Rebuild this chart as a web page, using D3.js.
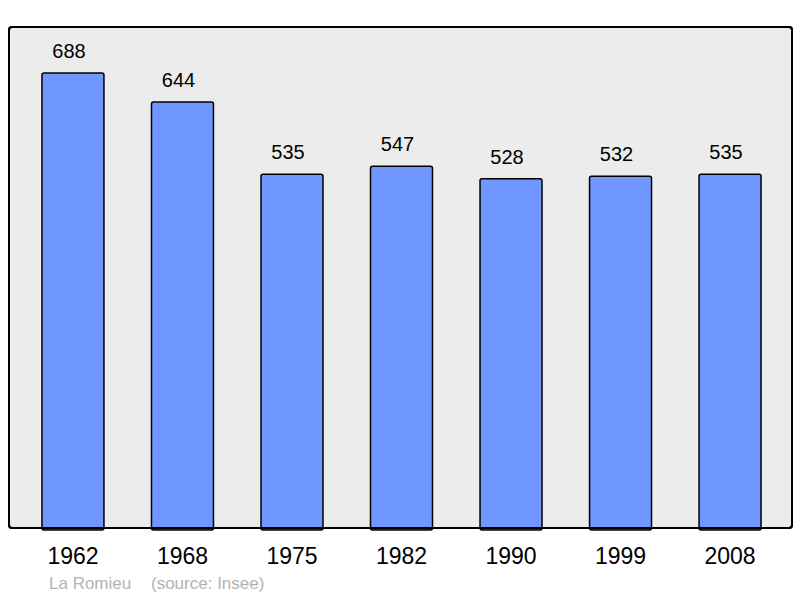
<!DOCTYPE html>
<html>
<head>
<meta charset="utf-8">
<script src="https://cdn.jsdelivr.net/npm/d3@7"></script>
<style>
  body { margin: 0; background: #fff; }
  svg { display: block; font-family: "Liberation Sans", Arial, sans-serif; }
</style>
</head>
<body>
<div id="chart"></div>
<script>
// population by census year
const years = ['1962', '1968', '1975', '1982', '1990', '1999', '2008'];
const population = [688, 644, 535, 547, 528, 532, 535];
const commune = 'La Romieu';
const source = '(source: Insee)';

const width = 800, height = 598;

const svg = d3.select('#chart').append('svg')
    .attr('width', width)
    .attr('height', height);

// frame
svg.append('rect')
    .attr('x', 9).attr('y', 27)
    .attr('width', 783).attr('height', 501)
    .attr('rx', 3)
    .attr('fill', '#ececec')
    .attr('stroke', '#000')
    .attr('stroke-width', 2);

const x = d3.scaleBand()
    .domain(years)
    .range([18.2, 784.8])
    .paddingInner(0.434)
    .paddingOuter(0.217);

const y = d3.scaleLinear()
    .domain([0, 688])
    .range([528, 73]);

const bars = svg.selectAll('.bar')
    .data(years.map((yr, i) => ({ year: yr, value: population[i] })))
  .enter().append('g')
    .attr('class', 'bar');

bars.append('rect')
    .attr('x', d => x(d.year))
    .attr('y', d => y(d.value))
    .attr('width', x.bandwidth())
    .attr('height', d => y(0) - y(d.value) + 2)
    .attr('rx', 2)
    .attr('fill', '#7096ff')
    .attr('stroke', '#000')
    .attr('stroke-width', 1.5);

bars.append('text')
    .attr('x', d => x(d.year) + x.bandwidth() / 2 - 4)
    .attr('y', d => y(d.value) - 15)
    .attr('text-anchor', 'middle')
    .attr('font-size', 20)
    .text(d => d.value);

// redraw frame border on top so bars sit inside it
svg.append('rect')
    .attr('x', 9).attr('y', 27)
    .attr('width', 783).attr('height', 501)
    .attr('rx', 3)
    .attr('fill', 'none')
    .attr('stroke', '#000')
    .attr('stroke-width', 2);

// year labels
const xAxis = d3.axisBottom(x).tickSize(0).tickPadding(0);
const gx = svg.append('g')
    .attr('transform', 'translate(0,564)')
    .call(xAxis);
gx.select('.domain').remove();
gx.selectAll('text')
    .attr('dy', 0)
    .attr('font-size', 23)
    .attr('font-family', '"Liberation Sans", Arial, sans-serif')
    .attr('fill', '#000');

// footer
svg.append('text')
    .attr('x', 49).attr('y', 589)
    .attr('font-size', 17)
    .attr('fill', '#b3b3b3')
    .text(commune);
svg.append('text')
    .attr('x', 151).attr('y', 589)
    .attr('font-size', 17)
    .attr('fill', '#b3b3b3')
    .text(source);
</script>
</body>
</html>
